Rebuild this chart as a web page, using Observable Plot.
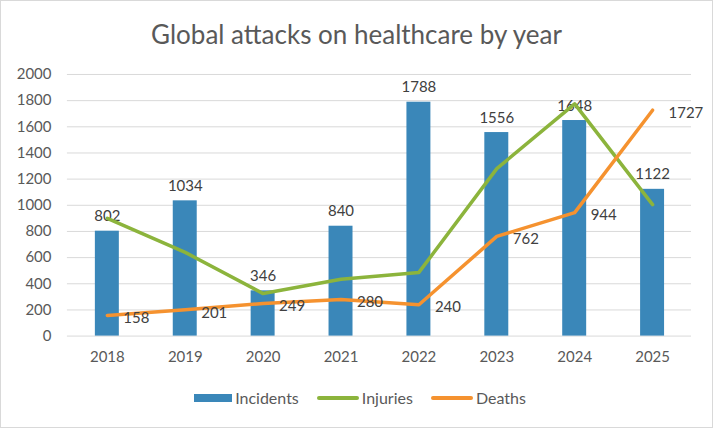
<!DOCTYPE html>
<html>
<head>
<meta charset="utf-8">
<script src="https://cdn.jsdelivr.net/npm/d3@7"></script>
<script src="https://cdn.jsdelivr.net/npm/@observablehq/plot@0.6"></script>
<style>
  html, body { margin: 0; padding: 0; background: #fff; }
  #chart { position: relative; width: 711px; height: 426px; border: 1px solid #d9d9d9; background: #fff; font-family: Lato, "Open Sans", sans-serif; overflow: hidden; }
  #title { position: absolute; left: 0; top: 13px; width: 711px; text-align: center; font-size: 26px; color: #595959; line-height: 40px; }
  #plot { position: absolute; left: -1px; top: 54px; }
  #legend { position: absolute; left: 0; top: 387px; width: 711px; display: flex; justify-content: center; align-items: center; font-size: 16px; color: #595959; padding-left: 7px; box-sizing: border-box; }
  .item { display: flex; align-items: center; margin: 0 9px; }
  .sw { display: inline-block; margin-right: 3px; }
</style>
</head>
<body>
<div id="chart">
  <div id="title">Global attacks on healthcare by year</div>
  <div id="plot"></div>
  <div id="legend"></div>
</div>
<script>
const years = ["2018", "2019", "2020", "2021", "2022", "2023", "2024", "2025"];
const incidents = [802, 1034, 346, 840, 1788, 1556, 1648, 1122];
const injuries = [900, 640, 325, 435, 487, 1280, 1775, 1005];
const deaths = [158, 201, 249, 280, 240, 762, 944, 1727];
const yTicks = [0, 200, 400, 600, 800, 1000, 1200, 1400, 1600, 1800, 2000];
const seriesNames = ["Incidents", "Injuries", "Deaths"];
const colors = ["#3a87b9", "#8cb43c", "#f5922f"];

const incData = years.map((y, i) => ({year: y, value: incidents[i]}));
const injData = years.map((y, i) => ({year: y, value: injuries[i]}));
const dthData = years.map((y, i) => ({year: y, value: deaths[i]}));

const font = "Lato, 'Open Sans', sans-serif";

const plot = Plot.plot({
  width: 713,
  height: 310,
  marginTop: 19,
  marginBottom: 29,
  marginLeft: 67,
  marginRight: 21,
  style: {fontFamily: font, fontSize: "15px", color: "#595959", background: "transparent"},
  x: {type: "band", domain: years, padding: 0, label: null},
  y: {domain: [0, 2000], ticks: yTicks, label: null},
  marks: [
    Plot.gridY(yTicks, {stroke: "#d9d9d9", strokeOpacity: 1, strokeWidth: 1}),
    Plot.axisY(yTicks, {tickSize: 0, tickPadding: 16, label: null, fontSize: 15, fill: "#595959", tickFormat: d => String(d)}),
    Plot.axisX({tickSize: 0, tickPadding: 15, label: null, fontSize: 15, fill: "#595959"}),
    Plot.barY(incData, {x: "year", y: "value", fill: colors[0], insetLeft: 27, insetRight: 27}),
    Plot.text(incData, {x: "year", y: "value", text: d => String(d.value), dy: -10, lineAnchor: "bottom", fill: "#404040", fontSize: 15}),
    Plot.line(injData, {x: "year", y: "value", stroke: colors[1], strokeWidth: 3.5, strokeLinejoin: "round", strokeLinecap: "round"}),
    Plot.line(dthData, {x: "year", y: "value", stroke: colors[2], strokeWidth: 3.5, strokeLinejoin: "round", strokeLinecap: "round"}),
    Plot.text(dthData, {x: "year", y: "value", text: d => String(d.value), dx: 16, dy: 3, textAnchor: "start", fill: "#404040", fontSize: 15})
  ]
});
document.getElementById("plot").appendChild(plot);

const legend = document.getElementById("legend");
seriesNames.forEach((name, i) => {
  const item = document.createElement("div");
  item.className = "item";
  const sw = document.createElement("span");
  sw.className = "sw";
  sw.style.background = colors[i];
  if (i === 0) { sw.style.width = "38px"; sw.style.height = "8px"; }
  else { sw.style.width = "42px"; sw.style.height = "4px"; sw.style.borderRadius = "2px"; }
  const t = document.createElement("span");
  t.textContent = name;
  item.appendChild(sw);
  item.appendChild(t);
  legend.appendChild(item);
});
</script>
</body>
</html>
